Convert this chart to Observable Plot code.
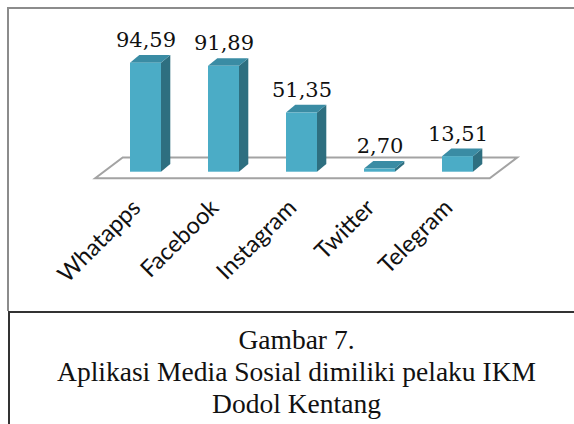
<!DOCTYPE html>
<html>
<head>
<meta charset="utf-8">
<script src="https://cdn.jsdelivr.net/npm/d3@7"></script>
<script src="https://cdn.jsdelivr.net/npm/@observablehq/plot@0.6"></script>
<style>
  html, body { margin: 0; padding: 0; background: #fff; overflow: hidden; }
  #page { position: relative; width: 574px; height: 424px; overflow: hidden; background: #fff; }
  #chart { position: absolute; left: 0; top: 0; width: 574px; height: 312px; overflow: hidden; }
  #hline1 { position: absolute; left: 7px; top: 7px; width: 567px; height: 2px; background: #8c8c8c; }
  #vline1 { position: absolute; left: 7px; top: 7px; width: 2px; height: 304px; background: #8c8c8c; }
  #hline2 { position: absolute; left: 8px; top: 311px; width: 566px; height: 1.5px; background: #333; }
  #vline2 { position: absolute; left: 8px; top: 311px; width: 1.5px; height: 113px; background: #333; }
  #caption { position: absolute; left: 8px; top: 324px; width: 577px; text-align: center;
             font-family: "Liberation Serif", "Times New Roman", serif; font-size: 27.5px;
             line-height: 32px; color: #111; }
</style>
</head>
<body>
<div id="page">
  <div id="chart"></div>
  <div id="hline1"></div>
  <div id="vline1"></div>
  <div id="hline2"></div>
  <div id="vline2"></div>
  <div id="caption"></div>
</div>
<script>
// ---- data ----
const apps = ["Whatapps", "Facebook", "Instagram", "Twitter", "Telegram"];
const values = [94.59, 91.89, 51.35, 2.70, 13.51];
const valueLabels = ["94,59", "91,89", "51,35", "2,70", "13,51"];
const captionLines = ["Gambar 7.", "Aplikasi Media Sosial dimiliki pelaku IKM", "Dodol Kentang"];

const data = apps.map((a, i) => ({app: a, value: values[i], label: valueLabels[i]}));

// ---- style ----
const FRONT = "#4BACC6", SIDE = "#2E6F80", TOP = "#3A8CA4";
const DEPTH = [9.3, -7.7];          // bar depth offset (px)
const FLOOR_FRONT = [-8.5, 6.6];    // floor front edge offset from baseline
const FLOOR_BACK = [19, -14.2];     // floor back edge offset from baseline

function bandwidthOf(scales) {
  const xs = scales.x;
  if (typeof xs.bandwidth === "function") return xs.bandwidth();
  if (typeof xs.bandwidth === "number") return xs.bandwidth;
  return scales.scales.x.bandwidth;
}

// floor parallelogram, derived from the x range and y(0)
function floor(index, scales, values, dims) {
  const L = dims.marginLeft, R = dims.width - dims.marginRight, y0 = scales.y(0);
  const g = d3.create("svg:g");
  const pts = [
    [L + FLOOR_FRONT[0], y0 + FLOOR_FRONT[1]],
    [R + FLOOR_FRONT[0], y0 + FLOOR_FRONT[1]],
    [R + FLOOR_BACK[0], y0 + FLOOR_BACK[1]],
    [L + FLOOR_BACK[0], y0 + FLOOR_BACK[1]]
  ];
  g.append("path")
    .attr("d", "M" + pts.map(p => p.join(",")).join("L") + "Z")
    .attr("fill", "#fff").attr("stroke", "#a3a3a3").attr("stroke-width", 2)
    .attr("stroke-linejoin", "miter");
  return g.node();
}

// 3D side and top faces of the bars
function faces(index, scales) {
  const bw = bandwidthOf(scales);
  const g = d3.create("svg:g");
  const [dx, dy] = DEPTH;
  for (const d of data) {
    const x0 = scales.x(d.app), x1 = x0 + bw, yt = scales.y(d.value), yb = scales.y(0);
    g.append("path")
      .attr("d", `M${x1},${yb}L${x1 + dx},${yb + dy}L${x1 + dx},${yt + dy}L${x1},${yt}Z`)
      .attr("fill", SIDE);
    g.append("path")
      .attr("d", `M${x0},${yt}L${x0 + dx},${yt + dy}L${x1 + dx},${yt + dy}L${x1},${yt}Z`)
      .attr("fill", TOP);
  }
  return g.node();
}

const plot = Plot.plot({
  width: 574,
  height: 312,
  marginLeft: 103.7,
  marginRight: 75.8,
  marginTop: 56.5,
  marginBottom: 140.3,
  style: {background: "none", overflow: "visible"},
  x: {type: "band", domain: apps, paddingInner: 0.607, paddingOuter: 0.3035, axis: null},
  y: {domain: [0, 100], axis: null},
  marks: [
    floor,
    faces,
    Plot.barY(data, {x: "app", y: "value", fill: FRONT, inset: 0}),
    Plot.text(data, {
      x: "app", y: "value", text: "label", dy: -16, lineAnchor: "bottom",
      fontFamily: "DejaVu Serif", fontSize: 21, fill: "#111"
    }),
    Plot.text(apps, {
      x: d => d, y: () => 0, text: d => d, rotate: -45, textAnchor: "end", lineAnchor: "bottom",
      dx: -4, dy: 37, fontFamily: "Lato", fontSize: 23.5, fill: "#111"
    })
  ]
});
document.getElementById("chart").appendChild(plot);

const cap = document.getElementById("caption");
captionLines.forEach(t => {
  const div = document.createElement("div");
  div.textContent = t;
  cap.appendChild(div);
});
</script>
</body>
</html>
